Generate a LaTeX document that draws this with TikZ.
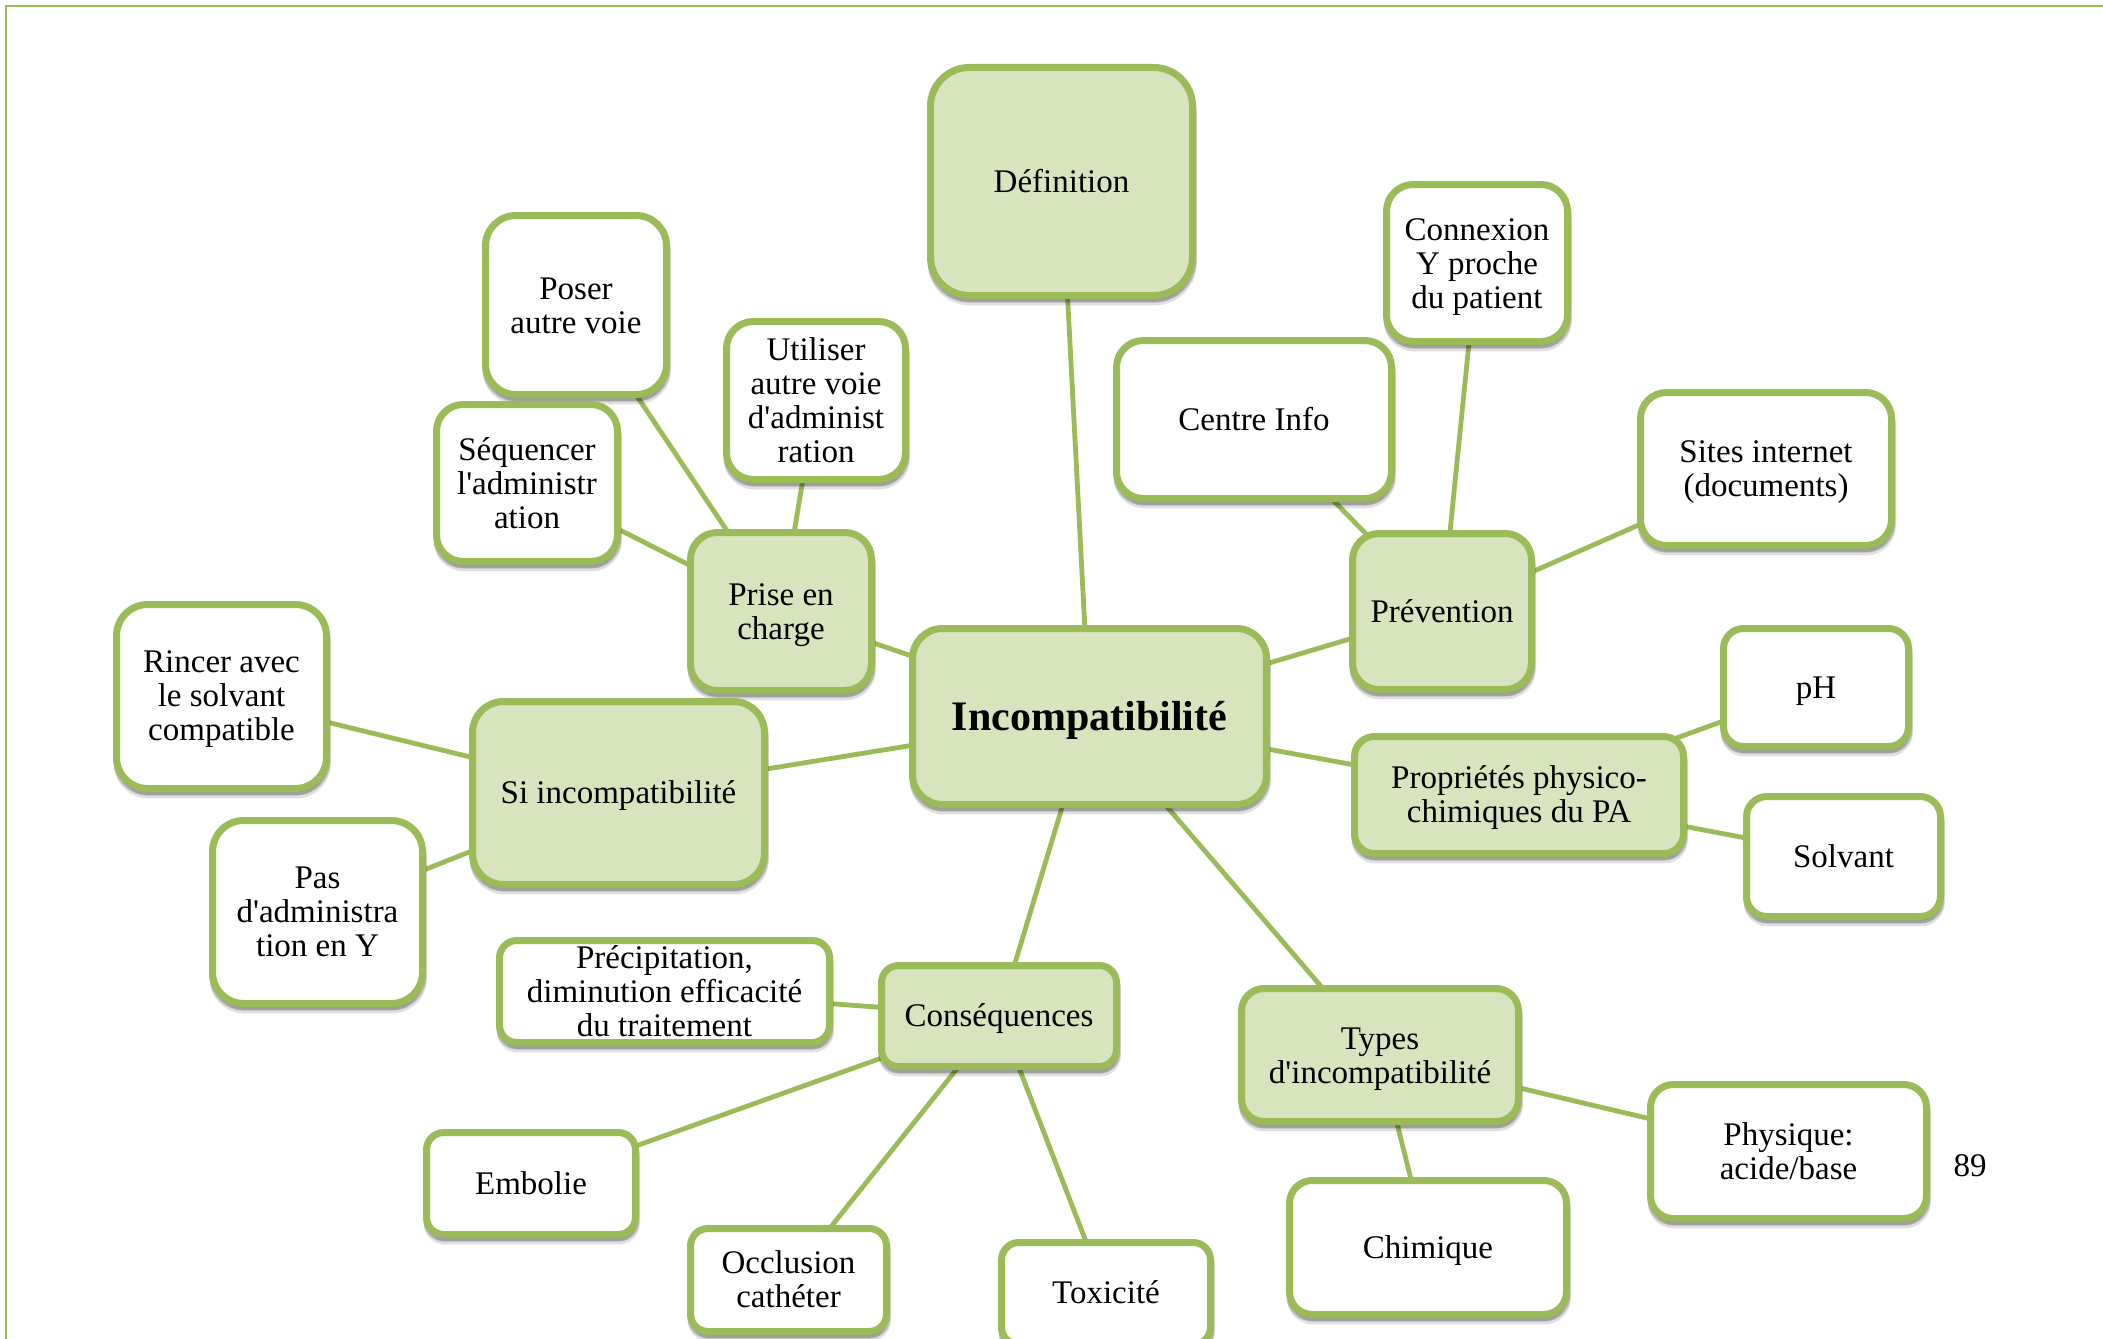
\documentclass[tikz,border=0pt]{standalone}
\usepackage{fontspec}
\setmainfont{Liberation Serif}
\usetikzlibrary{shadows,backgrounds}

\definecolor{leafgreen}{HTML}{9BBB59}
\definecolor{leaffill}{HTML}{D7E4BD}

\tikzset{
  basebox/.style={
    rectangle, draw=leafgreen, line width=3.5pt, inner sep=0pt,
    drop shadow={shadow xshift=0.4pt, shadow yshift=-3.2pt, opacity=0.12, fill=black, draw=black, line width=3.5pt},
    drop shadow={shadow xshift=0.2pt, shadow yshift=-1.8pt, opacity=0.18, fill=black, draw=black, line width=3.5pt}
  },
  topicbox/.style={basebox, fill=leaffill},
  leafbox/.style={basebox, fill=white},
  boxtext/.style={align=center, inner sep=0pt, text=black, font=\fontsize{16.5}{17}\selectfont},
  coretext/.style={boxtext, font=\fontsize{21}{24}\selectfont\bfseries},
  link/.style={draw=leafgreen, line width=2.4pt},
  pagenum/.style={font=\fontsize{16.5}{17}\selectfont, inner sep=0pt}
}

% #1 name, #2 x, #3 y, #4 width, #5 height (px), #6 box style,
% #7 text style, #8 text drop (px), #9 text
\newcommand\mapbox[9]{%
  \pgfmathsetmacro\cornerrad{0.085*min(#4,#5)}%
  \node[#6, minimum width=#4*0.5pt, minimum height=#5*0.5pt,
        rounded corners=\cornerrad pt] (#1) at (#2,#3) {};
  \node[#7] (#1-text) at ([yshift=-#8*0.5pt]#1.center) {#9};
}

\begin{document}
\begin{tikzpicture}[x=0.5pt, y=-0.5pt]
\useasboundingbox (0,0) rectangle (2103,1338);

% central topic and main branches
\mapbox{inc}{1089.5}{716.5}{354}{176}{topicbox}{coretext}{4}{Incompatibilit\'e}
\mapbox{def}{1061.5}{181.5}{262}{228}{topicbox}{boxtext}{0}{D\'efinition}
\mapbox{prise}{781}{611.5}{181}{158}{topicbox}{boxtext}{4}{Prise en\\charge}
\mapbox{si}{618.5}{793}{292}{183}{topicbox}{boxtext}{3}{Si incompatibilit\'e}
\mapbox{cons}{999}{1016}{235}{101}{topicbox}{boxtext}{3}{Cons\'equences}
\mapbox{prev}{1442}{611.5}{179}{156}{topicbox}{boxtext}{0}{Pr\'evention}
\mapbox{prop}{1519}{795}{329}{117}{topicbox}{boxtext}{3}{Propri\'et\'es physico-\\chimiques du PA}
\mapbox{types}{1380}{1055}{277}{133}{topicbox}{boxtext}{4}{Types\\d\textquotesingle incompatibilit\'e}

% Prise en charge
\mapbox{poser}{576}{305}{181}{179}{leafbox}{boxtext}{1}{Poser\\autre voie}
\mapbox{util}{816}{400.5}{179}{158}{leafbox}{boxtext}{0}{Utiliser\\autre voie\\d\textquotesingle administ\\ration}
\mapbox{seq}{527}{483}{181}{157}{leafbox}{boxtext}{0}{S\'equencer\\l\textquotesingle administr\\ation}

% Si incompatibilite
\mapbox{rincer}{221.5}{696.5}{210}{184}{leafbox}{boxtext}{3}{Rincer avec\\le solvant\\compatible}
\mapbox{pasy}{317.5}{912}{210}{183}{leafbox}{boxtext}{0}{Pas\\d\textquotesingle administra\\tion en Y}

% Consequences
\mapbox{precip}{664.5}{991.5}{330}{102}{leafbox}{boxtext}{0}{Pr\'ecipitation,\\diminution efficacit\'e\\du traitement}
\mapbox{embol}{531}{1183.5}{209}{102}{leafbox}{boxtext}{0}{Embolie}
\mapbox{occl}{788.5}{1280}{196}{103}{leafbox}{boxtext}{-1}{Occlusion\\cath\'eter}
\mapbox{toxi}{1106}{1293.5}{209}{102}{leafbox}{boxtext}{-1}{Toxicit\'e}

% Prevention
\mapbox{centre}{1254}{419.5}{275}{158}{leafbox}{boxtext}{0}{Centre Info}
\mapbox{conn}{1477}{263}{181}{157}{leafbox}{boxtext}{4}{Connexion\\Y proche\\du patient}
\mapbox{sites}{1766}{469}{251}{153}{leafbox}{boxtext}{3}{Sites internet\\(documents)}

% Proprietes physico-chimiques
\mapbox{ph}{1816}{687.5}{185}{118}{leafbox}{boxtext}{4}{pH}
\mapbox{solv}{1843.5}{856.5}{194}{120}{leafbox}{boxtext}{0}{Solvant}

% Types d'incompatibilite
\mapbox{phys}{1788.5}{1151.5}{276}{134}{leafbox}{boxtext}{0}{Physique:\\acide/base}
\mapbox{chim}{1428}{1247.5}{277}{134}{leafbox}{boxtext}{3}{Chimique}

\node[pagenum] (page) at (1970,1166) {89};

\begin{scope}[on background layer]
  \fill[white] (0,0) rectangle (2103,1338);
  \draw[leafgreen, line width=1.1pt] (6,1400) -- (6,6) -- (2200,6);
  \draw[link] (inc.center) -- (def.center);
  \draw[link] (inc.center) -- (prise.center);
  \draw[link] (inc.center) -- (si.center);
  \draw[link] (inc.center) -- (cons.center);
  \draw[link] (inc.center) -- (prev.center);
  \draw[link] (inc.center) -- (prop.center);
  \draw[link] (inc.center) -- (types.center);
  \draw[link] (prise.center) -- (poser.center);
  \draw[link] (prise.center) -- (util.center);
  \draw[link] (prise.center) -- (seq.center);
  \draw[link] (si.center) -- (rincer.center);
  \draw[link] (si.center) -- (pasy.center);
  \draw[link] (cons.center) -- (precip.center);
  \draw[link] (cons.center) -- (embol.center);
  \draw[link] (cons.center) -- (occl.center);
  \draw[link] (cons.center) -- (toxi.center);
  \draw[link] (prev.center) -- (centre.center);
  \draw[link] (prev.center) -- (conn.center);
  \draw[link] (prev.center) -- (sites.center);
  \draw[link] (prop.center) -- (ph.center);
  \draw[link] (prop.center) -- (solv.center);
  \draw[link] (types.center) -- (phys.center);
  \draw[link] (types.center) -- (chim.center);
\end{scope}
\end{tikzpicture}
\end{document}
